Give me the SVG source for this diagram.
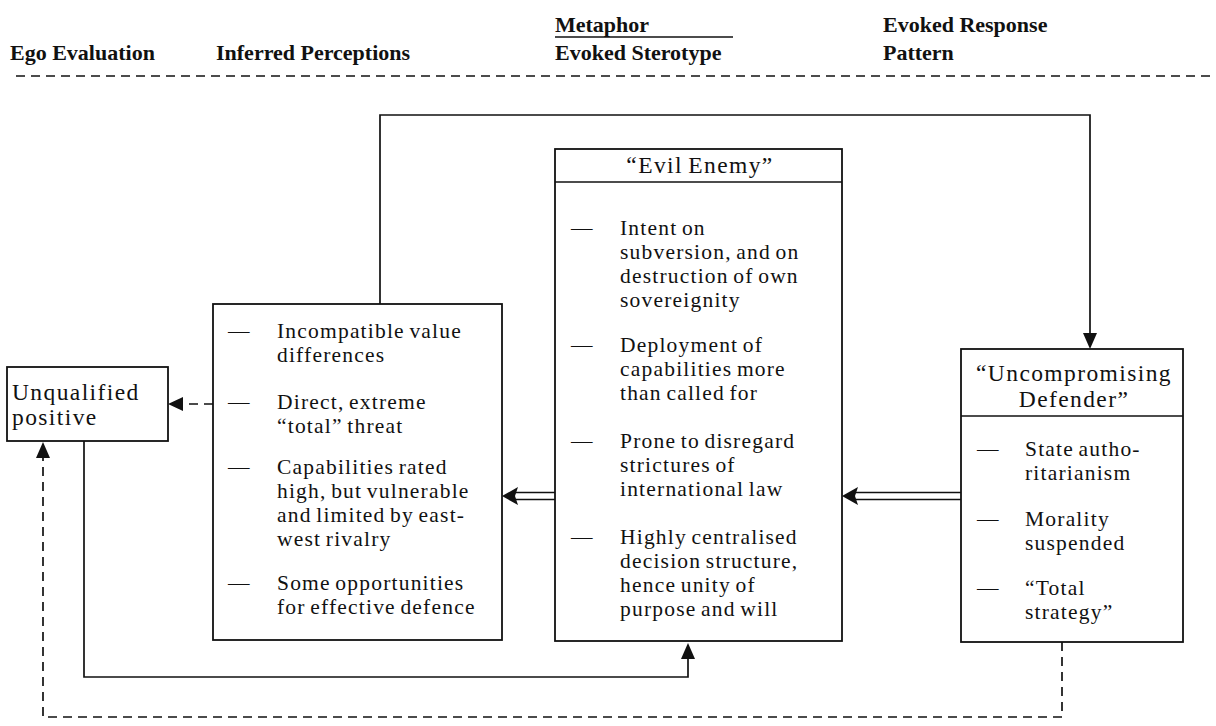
<svg xmlns="http://www.w3.org/2000/svg" width="1216" height="726" viewBox="0 0 1216 726">
<style>
.hdr{font-family:"Liberation Serif","Times New Roman",serif;font-weight:bold;font-size:22px;fill:#111}
.t{font-family:"Liberation Serif","Times New Roman",serif;font-size:21.5px;letter-spacing:1.2px;word-spacing:-2px;fill:#111}
.h{font-family:"Liberation Serif","Times New Roman",serif;font-size:23.5px;letter-spacing:1.4px;word-spacing:-2px;fill:#111}
.c{text-anchor:middle}
.box{fill:#fff;stroke:#111;stroke-width:1.8}
.ln{fill:none;stroke:#111;stroke-width:1.7}
.dsh{stroke-dasharray:9 6}
.ah{fill:#111;stroke:none}
</style>
<rect width="1216" height="726" fill="#fff"/>
<g id="header">
<text class="hdr" x="10" y="60">Ego Evaluation</text>
<text class="hdr" x="216" y="60">Inferred Perceptions</text>
<text class="hdr" x="555" y="32">Metaphor</text>
<line class="ln" x1="555" y1="37" x2="733" y2="37"/>
<text class="hdr" x="555" y="60">Evoked Sterotype</text>
<text class="hdr" x="883" y="32">Evoked Response</text>
<text class="hdr" x="883" y="60">Pattern</text>
<line class="ln dsh" x1="16" y1="76" x2="1216" y2="76"/>
</g>
<g id="connectors">
<path class="ln" d="M380,304 V115 H1090 V336"/>
<polygon class="ah" points="1090,349 1083,333 1097,333"/>
<path class="ln dsh" d="M213,404 H182"/>
<polygon class="ah" points="168,404 183,397 183,411"/>
<line class="ln" x1="514" y1="492.5" x2="555" y2="492.5"/>
<line class="ln" x1="514" y1="499.5" x2="555" y2="499.5"/>
<polygon class="ah" points="502,496 518,487 515,496 518,505"/>
<line class="ln" x1="854" y1="492.5" x2="961" y2="492.5"/>
<line class="ln" x1="854" y1="499.5" x2="961" y2="499.5"/>
<polygon class="ah" points="842,496 858,487 855,496 858,505"/>
<path class="ln" d="M84,441 V677 H688 V656"/>
<polygon class="ah" points="688,643 681,659 695,659"/>
<path class="ln dsh" d="M1062,642 V717 H43 V457"/>
<polygon class="ah" points="43,442 36,458 50,458"/>
</g>
<g id="unqualified">
<rect class="box" x="7" y="367" width="161" height="74"/>
<text class="h" x="12" y="400">Unqualified</text>
<text class="h" x="12" y="425">positive</text>
</g>
<g id="inferred">
<rect class="box" x="213" y="304" width="289" height="336"/>
<text class="t" x="228" y="338">—</text>
<text class="t" x="277" y="338">Incompatible value</text>
<text class="t" x="277" y="362">differences</text>
<text class="t" x="228" y="409">—</text>
<text class="t" x="277" y="409">Direct, extreme</text>
<text class="t" x="277" y="433">“total” threat</text>
<text class="t" x="228" y="474">—</text>
<text class="t" x="277" y="474">Capabilities rated</text>
<text class="t" x="277" y="498">high, but vulnerable</text>
<text class="t" x="277" y="522">and limited by east-</text>
<text class="t" x="277" y="546">west rivalry</text>
<text class="t" x="228" y="590">—</text>
<text class="t" x="277" y="590">Some opportunities</text>
<text class="t" x="277" y="614">for effective defence</text>
</g>
<g id="evil-enemy">
<rect class="box" x="555" y="149" width="287" height="492"/>
<line class="ln" x1="555" y1="182" x2="842" y2="182"/>
<text class="h c" x="700" y="173">“Evil Enemy”</text>
<text class="t" x="571" y="235">—</text>
<text class="t" x="620" y="235">Intent on</text>
<text class="t" x="620" y="259">subversion, and on</text>
<text class="t" x="620" y="283">destruction of own</text>
<text class="t" x="620" y="307">sovereignity</text>
<text class="t" x="571" y="352">—</text>
<text class="t" x="620" y="352">Deployment of</text>
<text class="t" x="620" y="376">capabilities more</text>
<text class="t" x="620" y="400">than called for</text>
<text class="t" x="571" y="448">—</text>
<text class="t" x="620" y="448">Prone to disregard</text>
<text class="t" x="620" y="472">strictures of</text>
<text class="t" x="620" y="496">international law</text>
<text class="t" x="571" y="544">—</text>
<text class="t" x="620" y="544">Highly centralised</text>
<text class="t" x="620" y="568">decision structure,</text>
<text class="t" x="620" y="592">hence unity of</text>
<text class="t" x="620" y="616">purpose and will</text>
</g>
<g id="defender">
<rect class="box" x="961" y="349" width="222" height="293"/>
<line class="ln" x1="961" y1="416" x2="1183" y2="416"/>
<text class="h c" x="1074" y="381">“Uncompromising</text>
<text class="h c" x="1074" y="407">Defender”</text>
<text class="t" x="977" y="456">—</text>
<text class="t" x="1025" y="456">State autho-</text>
<text class="t" x="1025" y="480">ritarianism</text>
<text class="t" x="977" y="526">—</text>
<text class="t" x="1025" y="526">Morality</text>
<text class="t" x="1025" y="550">suspended</text>
<text class="t" x="977" y="595">—</text>
<text class="t" x="1025" y="595">“Total</text>
<text class="t" x="1025" y="619">strategy”</text>
</g>
</svg>
